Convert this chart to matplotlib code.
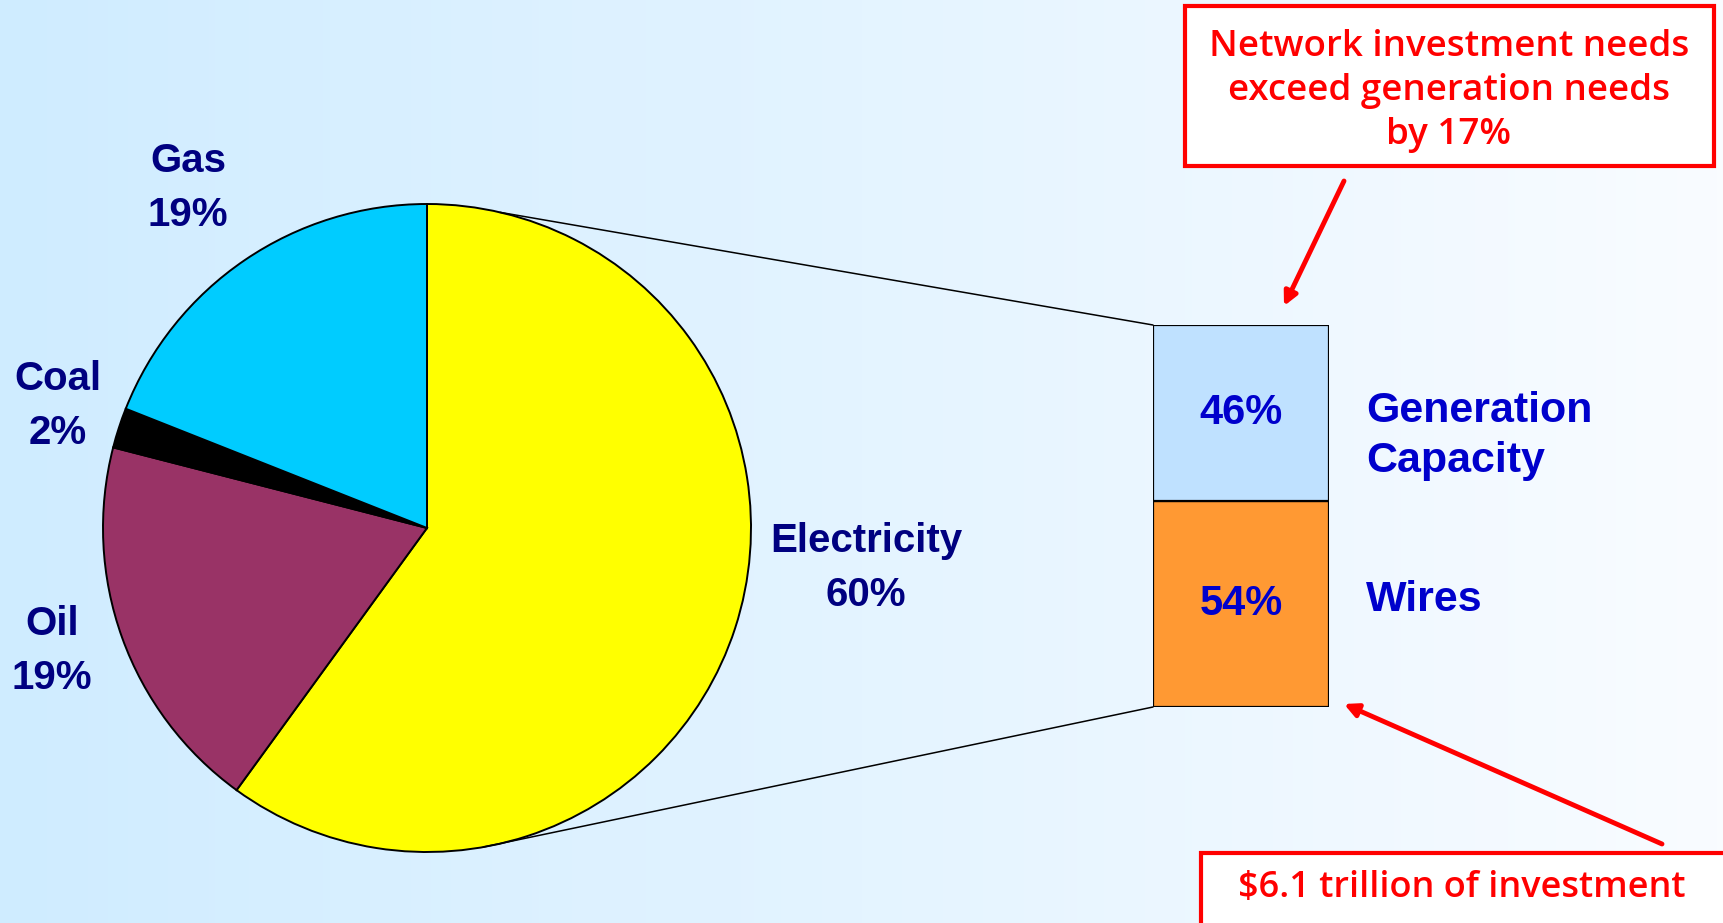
import numpy as np
import matplotlib
matplotlib.use('AGG')
import matplotlib.pyplot as plt
from matplotlib.patches import ConnectionPatch, Rectangle

W, H = 1724, 923

# pie data (clockwise from 12 o'clock)
fuels = ['Electricity', 'Oil', 'Coal', 'Gas']
fuel_share = [60, 19, 2, 19]
fuel_colors = ['#FFFF00', '#993366', '#000000', '#00CCFF']

# breakdown of the electricity slice
parts = ['Wires', 'Generation\nCapacity']
part_share = [54, 46]
part_colors = ['#FF9933', '#BFE1FF']

navy = '#000080'
blue = '#0000CC'
red = '#FF0000'


def fx(x):
    return x / W


def fy(y):
    return 1 - y / H


fig = plt.figure(figsize=(W / 100, H / 100), dpi=100)

# background gradient
bg = fig.add_axes([0, 0, 1, 1])
left_c = np.array([207, 236, 255]) / 255
right_c = np.array([249, 252, 255]) / 255
t = np.linspace(0, 1, 256)[None, :, None]
grad = left_c * (1 - t) + right_c * t
bg.imshow(grad, aspect='auto', extent=[0, 1, 0, 1])
bg.set_axis_off()

# pie
cx, cy, r = 427, 528, 324
pax = fig.add_axes([fx(cx - r), fy(cy + r), 2 * r / W, 2 * r / H])
pax.pie(fuel_share, colors=fuel_colors, startangle=90, counterclock=False,
        wedgeprops=dict(edgecolor='black', linewidth=1.4))
pax.set_xlim(-1, 1)
pax.set_ylim(-1, 1)
pax.set_aspect('auto')
pax.set_axis_off()

# stacked bar
bx0, bx1, by0, by1 = 1153, 1329, 325, 707
bax = fig.add_axes([fx(bx0), fy(by1), (bx1 - bx0) / W, (by1 - by0) / H])
bottom = 0
for name, val, col in zip(parts, part_share, part_colors):
    bax.bar(0, val, bottom=bottom, width=1, color=col, edgecolor='black',
            linewidth=1.6)
    bax.text(0, bottom + val / 2, f'{val}%', ha='center', va='center',
             color=blue, fontsize=30, fontweight='bold',
             family='Liberation Sans')
    bottom += val
bax.set_xlim(-0.5, 0.5)
bax.set_ylim(0, 100)
bax.set_axis_off()

# lines from pie to bar
for ang, yb in [(77, 100), (-80, 0)]:
    a = np.deg2rad(ang)
    con = ConnectionPatch(xyA=(np.cos(a), np.sin(a)), coordsA=pax.transData,
                          xyB=(-0.5, yb), coordsB=bax.transData,
                          color='black', linewidth=1.1)
    fig.add_artist(con)

# pie labels
lab_kw = dict(ha='center', va='center', color=navy, fontsize=29,
              fontweight='bold', family='Liberation Sans', linespacing=1.55)
pie_label_pos = {'Gas': (188, 188), 'Coal': (58, 406), 'Oil': (52, 651),
                 'Electricity': (866, 568)}
for name, val in zip(fuels, fuel_share):
    x, y = pie_label_pos[name]
    fig.text(fx(x), fy(y), f'{name}\n{val}%', **lab_kw)

# bar labels
side_kw = dict(ha='left', va='center', color=blue, fontsize=31,
               fontweight='bold', family='Liberation Sans', linespacing=1.35)
fig.text(fx(1366), fy(436), parts[1], **side_kw)
fig.text(fx(1366), fy(600), parts[0], **side_kw)

# callout boxes
box_kw = dict(facecolor='white', edgecolor=red, linewidth=3,
              transform=fig.transFigure)
fig.add_artist(Rectangle((fx(1185), fy(166)), (1714 - 1185) / W,
                         (166 - 6) / H, **box_kw))
fig.add_artist(Rectangle((fx(1201), fy(940)), (1740 - 1201) / W,
                         (940 - 853) / H, **box_kw))

note_kw = dict(ha='center', va='center', color=red, fontsize=26.5,
               family='Open Sans', fontweight='semibold', linespacing=1.3)
fig.text(fx(1449), fy(91),
         'Network investment needs\nexceed generation needs\nby 17%', **note_kw)
note_kw['fontsize'] = 26
fig.text(fx(1462), fy(888), '$6.1 trillion of investment', **note_kw)

# arrows
arr_kw = dict(arrowstyle='-|>,head_length=0.8,head_width=0.4', color=red,
              linewidth=3.5, shrinkA=0, shrinkB=0)
bg.annotate('', xy=(fx(1284), fy(306)), xytext=(fx(1344), fy(181)),
            xycoords='figure fraction', textcoords='figure fraction',
            arrowprops=arr_kw)
bg.annotate('', xy=(fx(1344), fy(704)), xytext=(fx(1662), fy(844)),
            xycoords='figure fraction', textcoords='figure fraction',
            arrowprops=arr_kw)

plt.savefig('out.png', dpi=100)
